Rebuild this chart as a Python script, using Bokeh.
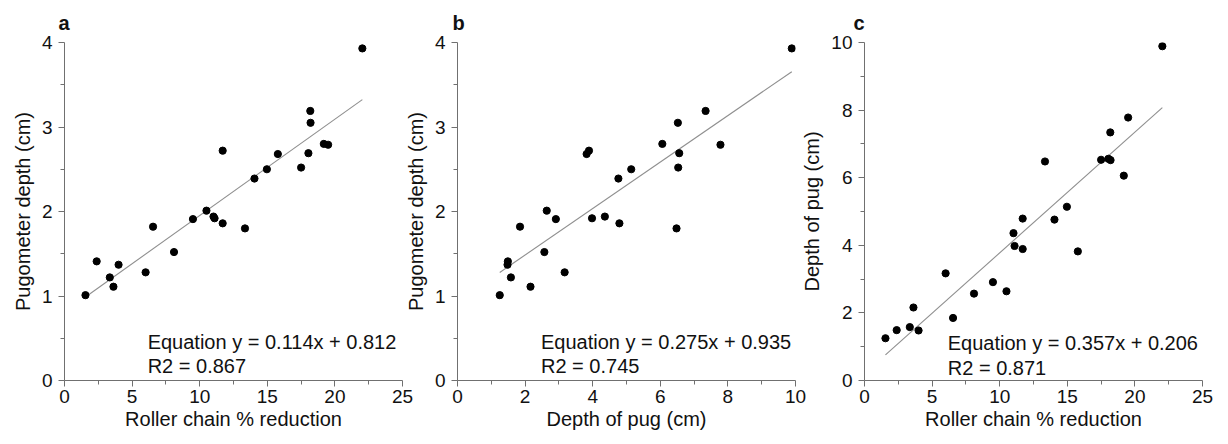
from bokeh.plotting import figure
from bokeh.layouts import row
from bokeh.models import FixedTicker, Label, Range1d
from bokeh.embed import file_html
from bokeh.resources import INLINE

# ---- data ----
roller_chain_pct = [1.55, 2.38, 3.35, 3.62, 4.0, 6.0, 6.55, 8.1, 9.5, 10.5, 11.02, 11.1, 11.7, 11.7,
                    13.35, 14.05, 14.97, 15.78, 17.5, 18.04, 18.2, 18.18, 19.18, 19.5, 22.03]
pugometer_depth = [1.01, 1.41, 1.22, 1.11, 1.37, 1.28, 1.82, 1.52, 1.91, 2.01, 1.94, 1.92, 1.86, 2.72,
                   1.80, 2.39, 2.50, 2.68, 2.52, 2.69, 3.05, 3.19, 2.80, 2.79, 3.93]
pug_depth = [1.25, 1.49, 1.58, 2.16, 1.48, 3.17, 1.85, 2.57, 2.91, 2.64, 4.36, 3.98, 4.79, 3.89,
             6.48, 4.76, 5.14, 3.82, 6.53, 6.56, 6.52, 7.34, 6.06, 7.78, 9.89]

panel_letters = ["a", "b", "c"]
slopes = [0.114, 0.275, 0.357]
intercepts = [0.812, 0.935, 0.206]
r2_values = [0.867, 0.745, 0.871]

roller_ticks = [0, 5, 10, 15, 20, 25]
roller_minor = [2.5, 7.5, 12.5, 17.5, 22.5]
pug_x_ticks = [0, 2, 4, 6, 8, 10]
pug_x_minor = [1, 3, 5, 7, 9]
pugometer_ticks = [0, 1, 2, 3, 4]
pugometer_minor = [0.5, 1.5, 2.5, 3.5]
depth_ticks = [0, 2, 4, 6, 8, 10]
depth_minor = [1, 3, 5, 7, 9]

FONT = "Liberation Sans"
TXT = "#111111"
AX = "#707070"


def style_axis(ax, ticks, minor):
    ax.ticker = FixedTicker(ticks=ticks, minor_ticks=minor)
    ax.axis_line_color = AX
    ax.major_tick_line_color = AX
    ax.minor_tick_line_color = AX
    ax.major_tick_in = 0
    ax.major_tick_out = 6
    ax.minor_tick_in = 0
    ax.minor_tick_out = 4
    ax.major_label_text_font = FONT
    ax.major_label_text_font_size = "19px"
    ax.major_label_text_color = TXT
    ax.axis_label_text_font = FONT
    ax.axis_label_text_font_size = "20px"
    ax.axis_label_text_font_style = "normal"
    ax.axis_label_text_color = TXT


def panel(i, x, y, xlabel, ylabel, xmax, ymax, xt, xm, yt, ym, eq_pos, borders, title_offset, margin):
    bl, br = borders
    p = figure(frame_width=338, frame_height=338,
               x_range=Range1d(0, xmax), y_range=Range1d(0, ymax),
               output_backend="svg", toolbar_location=None,
               min_border_left=bl, min_border_right=br,
               min_border_top=42, min_border_bottom=60,
               title=panel_letters[i], margin=margin)
    p.xgrid.visible = False
    p.ygrid.visible = False
    p.outline_line_color = None
    p.background_fill_color = "white"
    p.border_fill_color = None
    p.title.text_font = FONT
    p.title.text_font_size = "20px"
    p.title.text_font_style = "bold"
    p.title.text_color = TXT
    p.title.align = "left"
    p.title.offset = title_offset
    p.title.standoff = 17

    style_axis(p.xaxis[0], xt, xm)
    style_axis(p.yaxis[0], yt, ym)
    p.xaxis.axis_label = xlabel
    p.yaxis.axis_label = ylabel
    p.xaxis.major_label_standoff = 3
    p.xaxis.axis_label_standoff = 2
    p.yaxis.major_label_standoff = 6
    p.yaxis.axis_label_standoff = 5

    # fitted line over the data's x extent
    x0, x1 = min(x), max(x)
    p.line([x0, x1], [slopes[i] * x0 + intercepts[i], slopes[i] * x1 + intercepts[i]],
           line_color="#8f8f8f", line_width=1.1)
    p.scatter(x, y, size=7.2, fill_color="#000000", line_color="#000000")

    ex, ey1, ey2 = eq_pos
    p.add_layout(Label(x=ex, y=ey1, text=f"Equation y = {slopes[i]:.3f}x + {intercepts[i]:.3f}",
                       text_font=FONT, text_font_size="20px", text_color=TXT,
                       text_baseline="alphabetic"))
    p.add_layout(Label(x=ex, y=ey2, text=f"R2 = {r2_values[i]:.3f}",
                       text_font=FONT, text_font_size="20px", text_color=TXT,
                       text_baseline="alphabetic"))
    return p


pa = panel(0, roller_chain_pct, pugometer_depth, "Roller chain % reduction", "Pugometer depth (cm)",
           25, 4, roller_ticks, roller_minor, pugometer_ticks, pugometer_minor,
           (6.15, 0.45, 0.17), (64, 12), -6, (0, 0, 0, 0))
pb = panel(1, pug_depth, pugometer_depth, "Depth of pug (cm)", "Pugometer depth (cm)",
           10, 4, pug_x_ticks, pug_x_minor, pugometer_ticks, pugometer_minor,
           (2.47, 0.455, 0.17), (60, 12), -5, (0, 0, 0, -17))
pc = panel(2, roller_chain_pct, pug_depth, "Roller chain % reduction", "Depth of pug (cm)",
           25, 10, roller_ticks, roller_minor, depth_ticks, depth_minor,
           (6.16, 1.12, 0.38), (66, 26), -11, (0, 0, 0, -9))

layout = row(pa, pb, pc)
layout.spacing = 0
open("out.html", "w").write(file_html(layout, INLINE))
